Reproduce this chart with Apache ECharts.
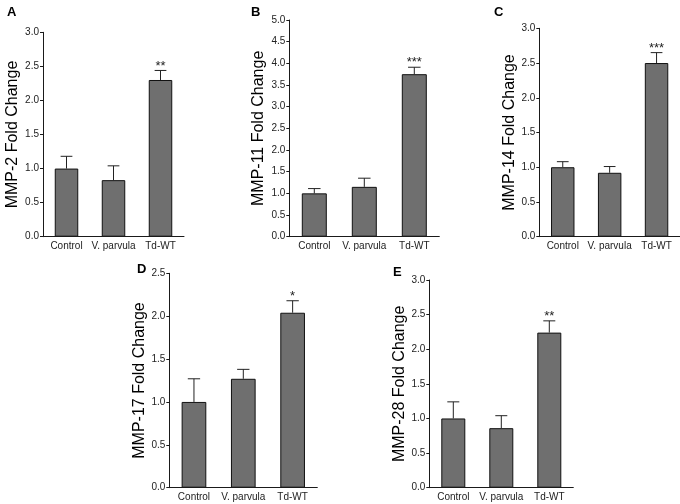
<!DOCTYPE html>
<html><head><meta charset="utf-8">
<script src="https://cdn.jsdelivr.net/npm/echarts@6/dist/echarts.min.js"></script>
<style>html,body{margin:0;padding:0;background:#fff}#c{width:680px;height:504px}</style>
</head><body><div id="c"></div>
<script>
var categories = ['Control', 'V. parvula', 'Td-WT'];

var mmp2 = [1.0, 0.83, 2.30];
var mmp2Err = [0.18, 0.21, 0.14];
var mmp2Sig = ['', '', '**'];

var mmp11 = [1.0, 1.15, 3.75];
var mmp11Err = [0.11, 0.20, 0.16];
var mmp11Sig = ['', '', '***'];

var mmp14 = [1.0, 0.92, 2.50];
var mmp14Err = [0.08, 0.09, 0.15];
var mmp14Sig = ['', '', '***'];

var mmp17 = [1.0, 1.27, 2.04];
var mmp17Err = [0.27, 0.11, 0.14];
var mmp17Sig = ['', '', '*'];

var mmp28 = [1.0, 0.86, 2.24];
var mmp28Err = [0.24, 0.18, 0.17];
var mmp28Sig = ['', '', '**'];

var panels = [
  {letter: 'A', title: 'MMP-2 Fold Change', vals: mmp2, err: mmp2Err, sig: mmp2Sig, max: 3.0,
   grid: {left: 43, top: 32.3, width: 141, height: 204.4}, gap: 22, lx: 2, ly: 1},
  {letter: 'B', title: 'MMP-11 Fold Change', vals: mmp11, err: mmp11Err, sig: mmp11Sig, max: 5.0,
   grid: {left: 289.3, top: 20, width: 150, height: 216.7}, gap: 23, lx: 246, ly: 1},
  {letter: 'C', title: 'MMP-14 Fold Change', vals: mmp14, err: mmp14Err, sig: mmp14Sig, max: 3.0,
   grid: {left: 539.3, top: 28.3, width: 145, height: 208.4}, gap: 21, lx: 489, ly: 1},
  {letter: 'D', title: 'MMP-17 Fold Change', vals: mmp17, err: mmp17Err, sig: mmp17Sig, max: 2.5,
   grid: {left: 169.3, top: 273.3, width: 148, height: 214.4}, gap: 22, lx: 132, ly: 258},
  {letter: 'E', title: 'MMP-28 Fold Change', vals: mmp28, err: mmp28Err, sig: mmp28Sig, max: 3.0,
   grid: {left: 429.3, top: 280, width: 144, height: 207.7}, gap: 22, lx: 388, ly: 261}
];

var FONT = "'Liberation Sans', Arial, sans-serif";
var AX = '#1a1a1a';
var option = {
  animation: false,
  backgroundColor: '#fff',
  title: [], grid: [], xAxis: [], yAxis: [], series: []
};

panels.forEach(function (p, i) {
  option.title.push({text: p.letter, left: p.lx, top: p.ly,
    textStyle: {fontFamily: FONT, fontSize: 13, fontWeight: 'bold', color: '#000'}});
  option.grid.push(p.grid);
  option.xAxis.push({
    type: 'category', gridIndex: i, data: categories, boundaryGap: true,
    axisLine: {lineStyle: {color: AX, width: 1}},
    axisTick: {alignWithLabel: true, length: 3, lineStyle: {color: AX}},
    axisLabel: {fontFamily: FONT, fontSize: 10, color: '#222', margin: 5, interval: 0}
  });
  option.yAxis.push({
    type: 'value', gridIndex: i, min: 0, max: p.max, interval: 0.5,
    name: p.title, nameLocation: 'middle', nameGap: p.gap, nameRotate: 90,
    nameTextStyle: {fontFamily: FONT, fontSize: 16, color: '#000'},
    splitLine: {show: false},
    axisLine: {show: true, lineStyle: {color: AX, width: 1}},
    axisTick: {show: true, length: 3, lineStyle: {color: AX}},
    axisLabel: {fontFamily: FONT, fontSize: 10, color: '#222', margin: 4,
      formatter: function (v) { return v.toFixed(1); }}
  });
  option.series.push({
    type: 'bar', xAxisIndex: i, yAxisIndex: i, data: p.vals, barWidth: '50%',
    itemStyle: {color: '#6f6f6f', borderColor: '#111', borderWidth: 1}, z: 2
  });
  var ed = p.vals.map(function (v, k) { return [k, v, p.err[k]]; });
  option.series.push({
    type: 'custom', xAxisIndex: i, yAxisIndex: i, data: ed, z: 3,
    renderItem: function (params, api) {
      var k = api.value(0), m = api.value(1), e = api.value(2);
      var sig = p.sig[k];
      var b = api.coord([k, m]);
      var t = api.coord([k, m + e]);
      var band = api.size([1, 0])[0];
      var hc = band * 0.125;
      var children = [
        {type: 'line', shape: {x1: b[0], y1: b[1], x2: t[0], y2: t[1]}, style: {stroke: '#222', lineWidth: 1}},
        {type: 'line', shape: {x1: t[0] - hc, y1: t[1], x2: t[0] + hc, y2: t[1]}, style: {stroke: '#222', lineWidth: 1}}
      ];
      if (sig) {
        children.push({type: 'text', x: t[0], y: t[1] + 2,
          style: {text: sig, fontFamily: FONT, fontSize: 13, fill: '#222', align: 'center', verticalAlign: 'bottom'}});
      }
      return {type: 'group', children: children};
    }
  });
});

var chart = echarts.init(document.getElementById('c'), null, {renderer: 'canvas'});
chart.setOption(option);
</script>
</body></html>
